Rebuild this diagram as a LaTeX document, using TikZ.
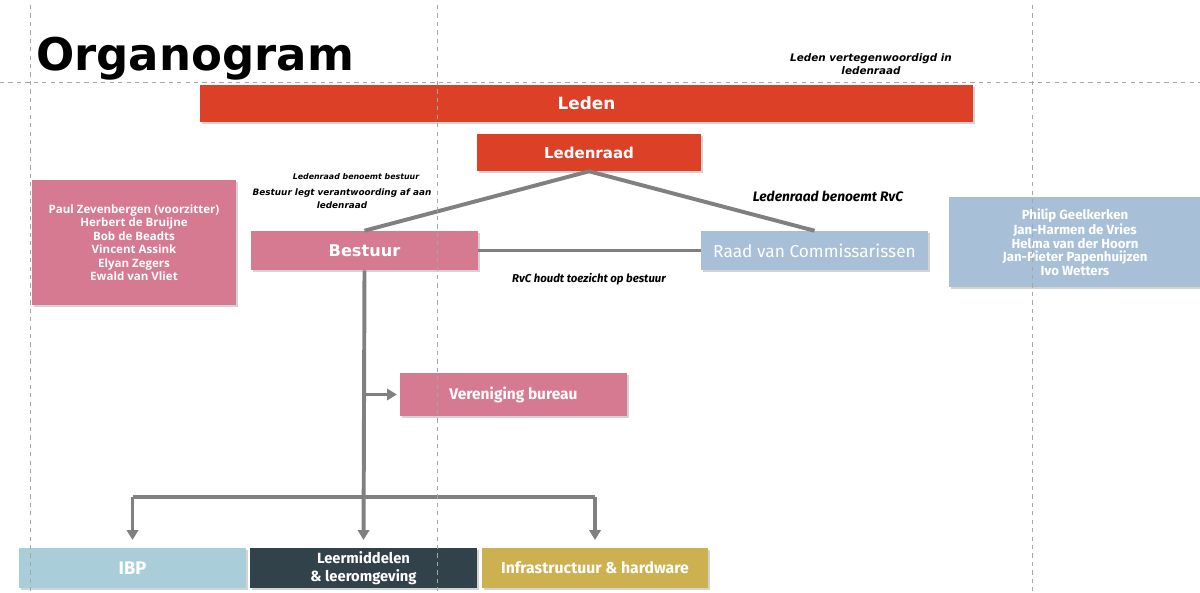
\documentclass[tikz,border=0pt]{standalone}
\usepackage{fontspec}
\setmainfont{DejaVu Sans}
\newfontfamily\namesfont{Open Sans}
\newfontfamily\narrowfont{Fira Sans}
\usepackage{xcolor}
\usetikzlibrary{positioning,shadows,arrows.meta}
\definecolor{ledenred}{RGB}{220,65,40}
\definecolor{bestuurpink}{RGB}{214,122,146}
\definecolor{rvcblue}{RGB}{168,191,216}
\definecolor{ibpblue}{RGB}{169,205,217}
\definecolor{leerdark}{RGB}{50,66,74}
\definecolor{infragold}{RGB}{205,176,80}
\definecolor{linegray}{RGB}{128,128,128}

\begin{document}
\begin{tikzpicture}[x=0.025cm,y=-0.025cm,
  box/.style={rectangle, inner sep=0pt, text=white, align=center,
    drop shadow={shadow xshift=1.5pt, shadow yshift=-1.5pt, opacity=0.35}},
  conn/.style={draw=linegray, line width=2.8pt},
  arr/.style={conn, -{Triangle[length=7pt,width=8pt]}},
  remark/.style={inner sep=0pt, align=center, font=\bfseries\itshape},
  guide/.style={black!35, dashed, line width=0.5pt}]
\useasboundingbox (0,0) rectangle (1200,592);

% title
\node[anchor=base west, inner sep=0pt, font=\fontsize{32}{32}\selectfont\bfseries] (title) at (36,70) {Organogram};

% boxes
\node[box, fill=ledenred, minimum width=19.325cm, minimum height=0.925cm, font=\fontsize{12}{12}\selectfont\bfseries] (leden) at (586.5,103.5) {Leden};
\node[box, fill=ledenred, minimum width=5.6cm, minimum height=0.925cm, font=\fontsize{10.7}{11}\selectfont\bfseries] (ledenraad) at (589,152.5) {Ledenraad};
\node[box, fill=bestuurpink, minimum width=5.675cm, minimum height=0.975cm, font=\fontsize{11.5}{12}\selectfont\bfseries] (bestuur) at (364.5,250.5) {Bestuur};
\node[box, fill=rvcblue, minimum width=5.675cm, minimum height=0.975cm, font=\fontsize{12.3}{12}\selectfont\narrowfont] (rvc) at (814.5,250.5) {Raad van Commissarissen};
\node[box, fill=bestuurpink, minimum width=5.1cm, minimum height=3.125cm, font=\fontsize{8.2}{9.6}\selectfont\namesfont\bfseries] (bestuurleden) at (134,242.5)
  {Paul Zevenbergen (voorzitter)\\Herbert de Bruijne\\Bob de Beadts\\Vincent Assink\\Elyan Zegers\\Ewald van Vliet};
\node[box, fill=rvcblue, minimum width=6.3cm, minimum height=2.25cm, font=\fontsize{9.4}{9.6}\selectfont\narrowfont\bfseries] (rvcleden) at (1075,242)
  {Philip Geelkerken\\Jan-Harmen de Vries\\Helma van der Hoorn\\Jan-Pieter Papenhuijzen\\Ivo Wetters};
\node[box, fill=bestuurpink, minimum width=5.675cm, minimum height=1.075cm, font=\fontsize{11}{11}\selectfont\narrowfont\bfseries] (bureau) at (513.5,394.5) {Vereniging bureau};
\node[box, fill=ibpblue, minimum width=5.675cm, minimum height=1cm, font=\fontsize{13}{13}\selectfont\narrowfont\bfseries] (ibp) at (132.5,568) {IBP};
\node[box, fill=leerdark, minimum width=5.675cm, minimum height=1cm, font=\fontsize{10.5}{12.8}\selectfont\narrowfont\bfseries] (leer) at (363.5,568) {Leermiddelen\\\& leeromgeving};
\node[box, fill=infragold, minimum width=5.65cm, minimum height=1cm, font=\fontsize{11.2}{11}\selectfont\narrowfont\bfseries] (infra) at (595,568) {Infrastructuur \& hardware};

% remarks
\node[remark, font=\fontsize{7.4}{9}\selectfont\bfseries\itshape] (rem1) at (871,64) {Leden vertegenwoordigd in\\ledenraad};
\node[remark, font=\fontsize{5.6}{6}\selectfont\bfseries\itshape] (rem2) at (356,177) {Ledenraad benoemt bestuur};
\node[remark, font=\fontsize{6.3}{9}\selectfont\bfseries\itshape] (rem3) at (342,198.5) {Bestuur legt verantwoording af aan\\ledenraad};
\node[remark, font=\fontsize{9.8}{10}\selectfont\narrowfont\bfseries\itshape] (rem4) at (828,196) {Ledenraad benoemt RvC};
\node[remark, font=\fontsize{8.1}{8}\selectfont\narrowfont\bfseries\itshape] (rem5) at (589,279) {RvC houdt toezicht op bestuur};

% connectors
\coordinate (bus) at (364.5,497);
\draw[conn] (ledenraad.south) -- (bestuur.north);
\draw[conn] (ledenraad.south) -- (rvc.north);
\draw[conn] (bestuur.east) -- (rvc.west);
\draw[arr, shorten >=5.5pt] (bestuur.south) -- (leer.north);
\draw[arr, shorten >=2pt] (bestuur.south |- bureau.west) -- (bureau.west);
\draw[conn] (ibp.north |- bus) -- (infra.north |- bus);
\draw[arr, shorten >=5.5pt] (ibp.north |- bus) -- (ibp.north);
\draw[arr, shorten >=5.5pt] (infra.north |- bus) -- (infra.north);

% guides
\draw[guide] (30,5) -- (30,592);
\draw[guide] (437,5) -- (437,592);
\draw[guide] (1032,5) -- (1032,592);
\draw[guide] (0,82) -- (1200,82);
\end{tikzpicture}
\end{document}
